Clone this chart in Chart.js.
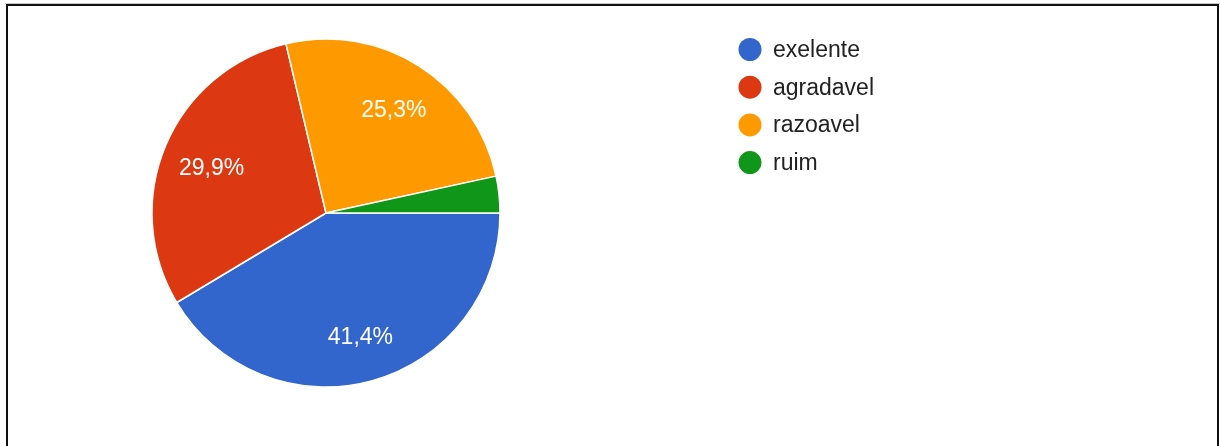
<!DOCTYPE html>
<html>
<head>
<meta charset="utf-8">
<script src="https://cdn.jsdelivr.net/npm/chart.js@4/dist/chart.umd.min.js"></script>
<style>
  html, body { margin: 0; padding: 0; background: #fff; }
  body { width: 1220px; height: 446px; position: relative; overflow: hidden; }
  #frame {
    position: absolute; left: 5px; top: 3px; width: 1215px; height: 460px;
    border-top: 1px solid #c8c8c8;
  }
  #frame-inner {
    position: absolute; left: 1px; top: 0; width: 1213px; height: 460px;
    border: 2px solid #111; border-bottom: none; box-sizing: border-box;
  }
  #wrap { position: absolute; left: 0; top: 0; width: 1220px; height: 446px; }
</style>
</head>
<body>
<div id="frame"><div id="frame-inner"></div></div>
<div id="wrap"><canvas id="chart" width="1220" height="446"></canvas></div>
<script>
// Survey answers and their share of responses (%)
const categories = ['exelente', 'agradavel', 'razoavel', 'ruim'];
const shares = [41.4, 29.9, 25.3, 3.4];
const sliceColors = ['#3366CC', '#DC3912', '#FF9900', '#109618'];

const FONT = '"Liberation Sans", Arial, sans-serif';

// Percentage text inside each slice (small slices left unlabelled)
const sliceLabels = {
  id: 'sliceLabels',
  afterDatasetsDraw(chart) {
    const ctx = chart.ctx;
    const meta = chart.getDatasetMeta(0);
    const values = chart.data.datasets[0].data;
    ctx.save();
    ctx.fillStyle = '#ffffff';
    ctx.font = '23px ' + FONT;
    ctx.textAlign = 'center';
    ctx.textBaseline = 'middle';
    meta.data.forEach((arc, i) => {
      const v = values[i];
      if (v < 5) return;
      const p = arc.getProps(['x', 'y', 'startAngle', 'endAngle', 'outerRadius']);
      const mid = (p.startAngle + p.endAngle) / 2;
      const r = p.outerRadius * 0.72;
      const txt = v.toFixed(1).replace('.', ',') + '%';
      ctx.fillText(txt, p.x + Math.cos(mid) * r + 1, p.y + Math.sin(mid) * r + 4);
    });
    ctx.restore();
  }
};

// Legend with round markers to the right of the pie
const sideLegend = {
  id: 'sideLegend',
  afterDraw(chart) {
    const ctx = chart.ctx;
    const labels = chart.data.labels;
    const colors = chart.data.datasets[0].backgroundColor;
    const x0 = 750, y0 = 49.5, step = 37.7;
    ctx.save();
    ctx.font = '23px ' + FONT;
    ctx.textBaseline = 'middle';
    ctx.textAlign = 'left';
    labels.forEach((lab, i) => {
      const y = y0 + i * step;
      ctx.beginPath();
      ctx.arc(x0, y, 11.5, 0, Math.PI * 2);
      ctx.fillStyle = colors[i];
      ctx.fill();
      ctx.fillStyle = '#222222';
      ctx.fillText(lab, x0 + 23, y + 1);
    });
    ctx.restore();
  }
};

new Chart(document.getElementById('chart'), {
  type: 'pie',
  data: {
    labels: categories,
    datasets: [{
      data: shares,
      backgroundColor: sliceColors,
      borderColor: '#ffffff',
      borderWidth: 1.5,
      hoverOffset: 0
    }]
  },
  options: {
    responsive: false,
    animation: false,
    rotation: 90,
    radius: 174,
    layout: { padding: { left: 0, top: 0, right: 568, bottom: 20 } },
    plugins: {
      legend: { display: false },
      tooltip: { enabled: false }
    }
  },
  plugins: [sliceLabels, sideLegend]
});
</script>
</body>
</html>
